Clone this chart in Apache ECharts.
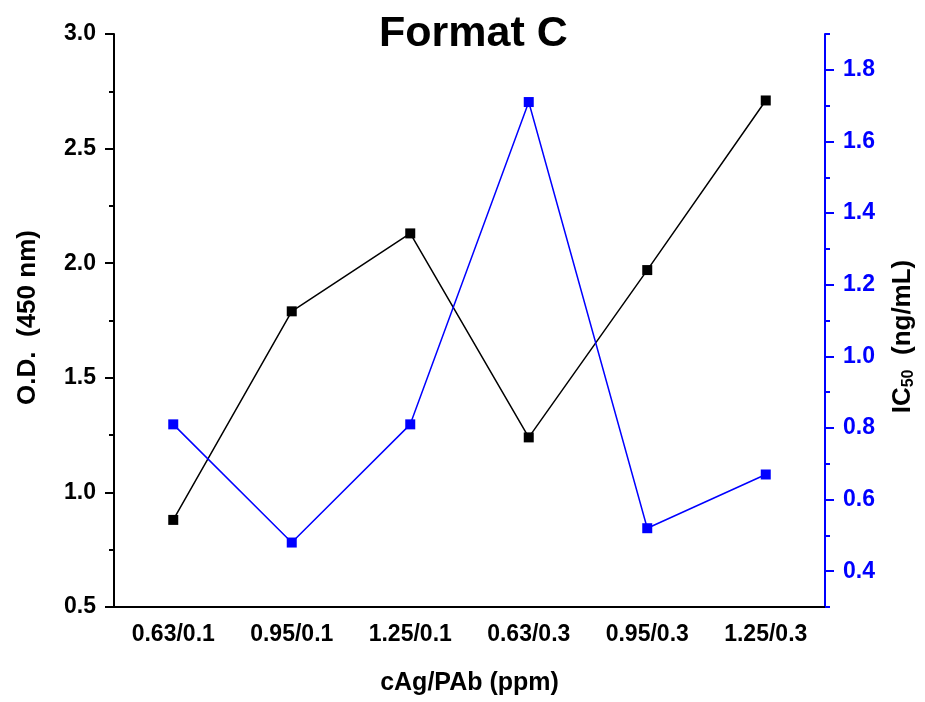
<!DOCTYPE html>
<html lang="en">

<head>
    <meta charset="UTF-8">
    <title>Format C</title>
    <script src="https://cdn.jsdelivr.net/npm/echarts@6.0.0/dist/echarts.min.js"></script>
    <style>
        html, body { margin: 0; padding: 0; background: #fff; }
        #chart { width: 925px; height: 702px; }
    </style>
</head>

<body>
    <div id="chart"></div>

    <script>
        // data
        const categories = ['0.63/0.1', '0.95/0.1', '1.25/0.1', '0.63/0.3', '0.95/0.3', '1.25/0.3'];
        const odValues = [0.88, 1.79, 2.13, 1.24, 1.97, 2.71];
        const ic50Values = [0.81, 0.48, 0.81, 1.71, 0.52, 0.67];
        const ic50MajorTicks = [0.4, 0.6, 0.8, 1.0, 1.2, 1.4, 1.6, 1.8];
        const ic50MinorTicks = [0.3, 0.5, 0.7, 0.9, 1.1, 1.3, 1.5, 1.7, 1.9];

        const FONT = '"Liberation Sans", Arial, sans-serif';
        const BLUE = '#0000ff';

        function initChart() {
            let chart = echarts.init(document.getElementById('chart'));
            let option = {
                animation: false,
                title: {
                    text: 'Format C',
                    left: 374,
                    top: 8,
                    textStyle: { fontFamily: FONT, fontSize: 43, fontWeight: 'bold', color: '#000' }
                },
                grid: { left: 114, right: 99, top: 34, bottom: 95 },
                xAxis: [
                    {
                        type: 'category',
                        data: categories,
                        boundaryGap: true,
                        name: 'cAg/PAb (ppm)',
                        nameLocation: 'middle',
                        nameGap: 64,
                        nameTextStyle: { fontFamily: FONT, fontSize: 25, fontWeight: 'bold', color: '#000' },
                        axisLine: { lineStyle: { color: '#000', width: 2 } },
                        axisTick: { length: 5, lineStyle: { width: 2 } },
                        axisLabel: { fontFamily: FONT, fontSize: 23, fontWeight: 'bold', color: '#000', margin: 16 },
                        splitLine: { show: false }
                    },
                    {
                        // major ticks under each category
                        type: 'category',
                        data: categories,
                        position: 'bottom',
                        boundaryGap: true,
                        axisLine: { show: false },
                        axisTick: { alignWithLabel: true, length: 9, lineStyle: { color: '#000', width: 2 } },
                        axisLabel: { show: false },
                        splitLine: { show: false }
                    }
                ],
                yAxis: [
                    {
                        type: 'value',
                        min: 0.5,
                        max: 3.0,
                        interval: 0.5,
                        name: 'O.D.  (450 nm)',
                        nameLocation: 'middle',
                        nameRotate: 90,
                        nameGap: 73,
                        nameTextStyle: { fontFamily: FONT, fontSize: 26, fontWeight: 'bold', color: '#000', padding: [0, 0, 0, 6] },
                        axisLine: { show: true, lineStyle: { color: '#000', width: 2 } },
                        axisTick: { show: true, length: 9, lineStyle: { width: 2 } },
                        minorTick: { show: true, splitNumber: 2, length: 5, lineStyle: { color: '#000', width: 2 } },
                        axisLabel: {
                            fontFamily: FONT, fontSize: 23, fontWeight: 'bold', color: '#000', margin: 18,
                            formatter: v => v.toFixed(1)
                        },
                        splitLine: { show: false }
                    },
                    {
                        type: 'value',
                        position: 'right',
                        min: 0.3,
                        max: 1.9,
                        name: '{a|IC}{b|50}{a|  (ng/mL)}',
                        nameLocation: 'middle',
                        nameRotate: 90,
                        nameGap: 64,
                        nameTextStyle: {
                            padding: [0, 32, 0, 0],
                            rich: {
                                a: { fontFamily: FONT, fontSize: 26, fontWeight: 'bold', color: '#000' },
                                b: { fontFamily: FONT, fontSize: 16, fontWeight: 'bold', color: '#000', verticalAlign: 'bottom', padding: [12, 0, 0, 0] }
                            }
                        },
                        axisLine: { show: true, lineStyle: { color: BLUE, width: 2 } },
                        axisTick: { show: true, customValues: ic50MajorTicks, length: 9, lineStyle: { color: BLUE, width: 2 } },
                        axisLabel: {
                            customValues: ic50MajorTicks,
                            fontFamily: FONT, fontSize: 23, fontWeight: 'bold', color: BLUE, margin: 18,
                            formatter: v => v.toFixed(1)
                        },
                        splitLine: { show: false }
                    },
                    {
                        // minor ticks on the IC50 axis
                        type: 'value',
                        position: 'right',
                        min: 0.3,
                        max: 1.9,
                        axisLine: { show: false },
                        axisTick: { show: true, customValues: ic50MinorTicks, length: 5, lineStyle: { color: BLUE, width: 2 } },
                        axisLabel: { show: false },
                        splitLine: { show: false }
                    }
                ],
                series: [
                    {
                        name: 'O.D.',
                        type: 'line',
                        data: odValues,
                        xAxisIndex: 0,
                        yAxisIndex: 0,
                        symbol: 'rect',
                        symbolSize: 10,
                        lineStyle: { color: '#000', width: 1.5 },
                        itemStyle: { color: '#000' }
                    },
                    {
                        name: 'IC50',
                        type: 'line',
                        data: ic50Values,
                        xAxisIndex: 0,
                        yAxisIndex: 1,
                        symbol: 'rect',
                        symbolSize: 10,
                        lineStyle: { color: BLUE, width: 1.5 },
                        itemStyle: { color: BLUE }
                    }
                ]
            };
            chart.setOption(option);
        }

        window.onload = initChart;
    </script>
</body>

</html>
